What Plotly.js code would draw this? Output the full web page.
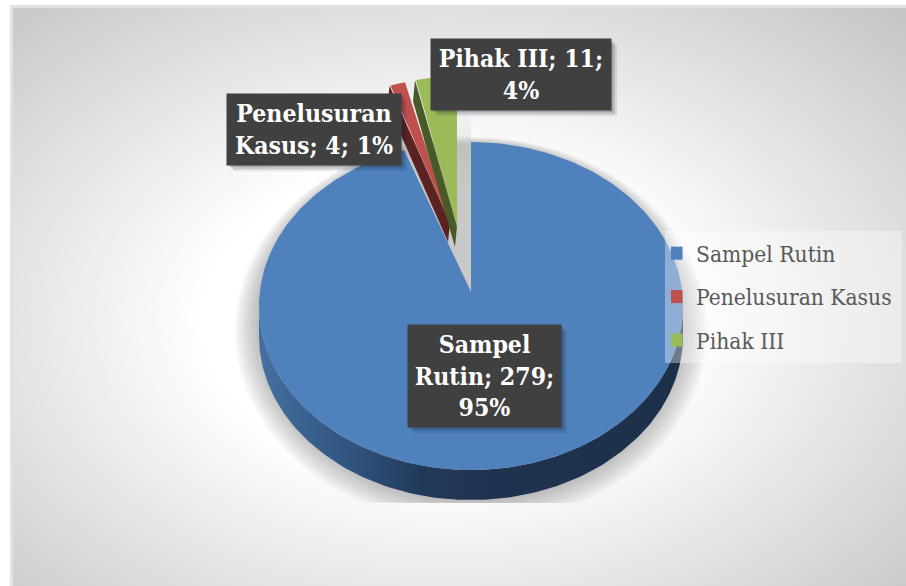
<!DOCTYPE html>
<html>
<head>
<meta charset="utf-8">
<script src="https://cdn.plot.ly/plotly-3.0.1.min.js"></script>
<style>
html,body{margin:0;padding:0;width:906px;height:586px;background:#fff;overflow:hidden}
#bg{position:absolute;left:10px;top:5px;width:896px;height:581px;box-sizing:border-box;border-left:3px solid #e2e2e2;border-top:3px solid #e2e2e2;
background:radial-gradient(ellipse farthest-corner at 48% 54%,#ffffff 0%,#ffffff 36%,#c4c4c4 100%)}
#chart{position:absolute;left:0;top:0;width:906px;height:586px}
</style>
</head>
<body>
<div id="bg"></div>
<div id="chart"></div>
<script>
// Data
const categories = ["Sampel Rutin", "Penelusuran Kasus", "Pihak III"];
const values = [279, 4, 11];
const percents = [95, 1, 4];
const labelBreaks = [["Sampel", "Rutin; 279;", "95%"], ["Penelusuran", "Kasus; 4; 1%"], ["Pihak III; 11;", "4%"]];

// Appearance
const faceColors = ["#4f81bd", "#c0504d", "#9bbb59"];
const wallColors = ["#1f3350", "#5a2321", "#475a28"];
const serif = "'DejaVu Serif Condensed','DejaVu Serif',serif";
const radiiX = [212, 176, 176], radiiY = [164, 150, 150];
const centers = [[471, 306], [446, 228], [457, 226]];
const apexes = [[471, 292], [450, 223], [457, 226]];
const depths = [30, 19, 21];
const boxes = [[408, 325, 561, 427], [227, 94, 401, 165], [431, 39, 611, 110]];
const legendBox = [665, 231, 902, 363];
const SHADOW_CLIP = 503;

const total = values.reduce((a, b) => a + b, 0);
// slices run clockwise from twelve o'clock, in data order
const starts = []; let acc = 0;
values.forEach(v => { starts.push(acc / total * 2 * Math.PI); acc += v; });

function rim(i, a) { return [centers[i][0] + radiiX[i] * Math.sin(a), centers[i][1] - radiiY[i] * Math.cos(a)]; }
function arc(i, a0, a1, dy) {
  const n = Math.max(4, Math.ceil(Math.abs(a1 - a0) / 0.02)), pts = [];
  for (let k = 0; k <= n; k++) { const p = rim(i, a0 + (a1 - a0) * k / n); pts.push([p[0], p[1] + (dy || 0)]); }
  return pts;
}
function poly(pts, color, extra) {
  return Object.assign({
    type: "scatter", mode: "lines", x: pts.map(p => p[0]).concat(pts[0][0]), y: pts.map(p => p[1]).concat(pts[0][1]),
    fill: "toself", fillcolor: color, line: { width: 0, color: color }, showlegend: false, hoverinfo: "skip"
  }, extra || {});
}

const traces = [];

// soft shadow behind the pie
[24, 21, 18, 15, 12, 9, 6, 3, 0].forEach(k => {
  const c = centers[0], pts = [], n = 240;
  for (let i = 0; i < n; i++) {
    const a = i / n * 2 * Math.PI;
    const x = c[0] + (radiiX[0] + k) * Math.sin(a);
    const y = c[1] + 16 + k * 0.35 - (radiiY[0] + 14 + k * 0.65) * Math.cos(a);
    pts.push([x, Math.min(y, SHADOW_CLIP)]);
  }
  traces.push(poly(pts, "rgba(100,100,100,0.055)"));
});
// grey shade seen in the gap left by the pulled slices
{
  const a = rim(0, starts[1]);
  traces.push(poly([apexes[0], a, [440, 112], [centers[0][0], 112]], "#c8c8c8", {
    fillgradient: { type: "vertical", start: 112, stop: 190, colorscale: [[0, "rgba(200,200,200,0)"], [1, "rgba(200,200,200,1)"]] }
  }));
}

// main slice: wall then face
{
  const i = 0, a0 = starts[0], a1 = a0 + values[0] / total * 2 * Math.PI;
  const front = arc(i, Math.PI / 2, 3 * Math.PI / 2, 0);
  const back = arc(i, 3 * Math.PI / 2, Math.PI / 2, depths[i]);
  traces.push(poly(front.concat(back), wallColors[i], {
    fillgradient: { type: "horizontal", colorscale: [[0, "#44709f"], [0.2, "#325682"], [0.38, "#223a5a"], [0.55, "#1f3350"], [1, "#1d3049"]] }
  }));
  traces.push(poly([apexes[i]].concat(arc(i, a0, a1)), faceColors[i]));
}
// pulled slices: cut wall then face
[1, 2].forEach(i => {
  const a0 = starts[i], a1 = a0 + values[i] / total * 2 * Math.PI;
  const ap = apexes[i], d = depths[i], left = rim(i, a0);
  traces.push(poly([[left[0] - 1, left[1]], [left[0] - 3, left[1] + d], [ap[0] - 2, ap[1] + d], ap], wallColors[i]));
  traces.push(poly([ap].concat(arc(i, a0, a1)), faceColors[i]));
});

// legend entries
categories.forEach((name, i) => traces.push({
  type: "scatter", mode: "markers", x: [null], y: [null], name: name,
  marker: { symbol: "square", size: 13, color: faceColors[i] }, hoverinfo: "skip", legendgroup: name
}));

const shapes = [];
boxes.forEach(b => {
  [[6, 0.10], [4, 0.14], [2, 0.18]].forEach(s => shapes.push({
    type: "rect", xref: "x", yref: "y", x0: b[0] + s[0], y0: b[1] + s[0], x1: b[2] + s[0], y1: b[3] + s[0],
    fillcolor: "rgba(20,30,50," + s[1] + ")", line: { width: 0 }, layer: "above"
  }));
});
shapes.push({
  type: "rect", xref: "x", yref: "y", x0: legendBox[0], y0: legendBox[1], x1: legendBox[2], y1: legendBox[3],
  fillcolor: "rgba(255,255,255,0.36)", line: { width: 0 }, layer: "above"
});

const annotations = categories.map((name, i) => {
  const b = boxes[i];
  return {
    xref: "x", yref: "y", x: (b[0] + b[2]) / 2, y: (b[1] + b[3]) / 2, xanchor: "center", yanchor: "middle",
    text: labelBreaks[i].join("<br>"), showarrow: false, align: "center", valign: "middle",
    width: b[2] - b[0], height: b[3] - b[1], bgcolor: "#404040", borderpad: 0,
    font: { family: serif, size: 24.6, color: "#ffffff", weight: 700 }
  };
});

const layout = {
  width: 906, height: 586, margin: { l: 0, r: 0, t: 0, b: 0, pad: 0 },
  paper_bgcolor: "rgba(0,0,0,0)", plot_bgcolor: "rgba(0,0,0,0)",
  xaxis: { range: [0, 906], visible: false, fixedrange: true },
  yaxis: { range: [586, 0], visible: false, fixedrange: true },
  shapes: shapes, annotations: annotations,
  legend: {
    x: 671 / 906, y: 1 - 232 / 586, xanchor: "left", yanchor: "top", bgcolor: "rgba(0,0,0,0)",
    font: { family: serif, size: 22.6, color: "#595959" }, tracegroupgap: 11, indentation: -15,
    itemclick: false, itemdoubleclick: false
  },
  showlegend: true
};
Plotly.newPlot("chart", traces, layout, { displayModeBar: false, staticPlot: true });
</script>
</body>
</html>
